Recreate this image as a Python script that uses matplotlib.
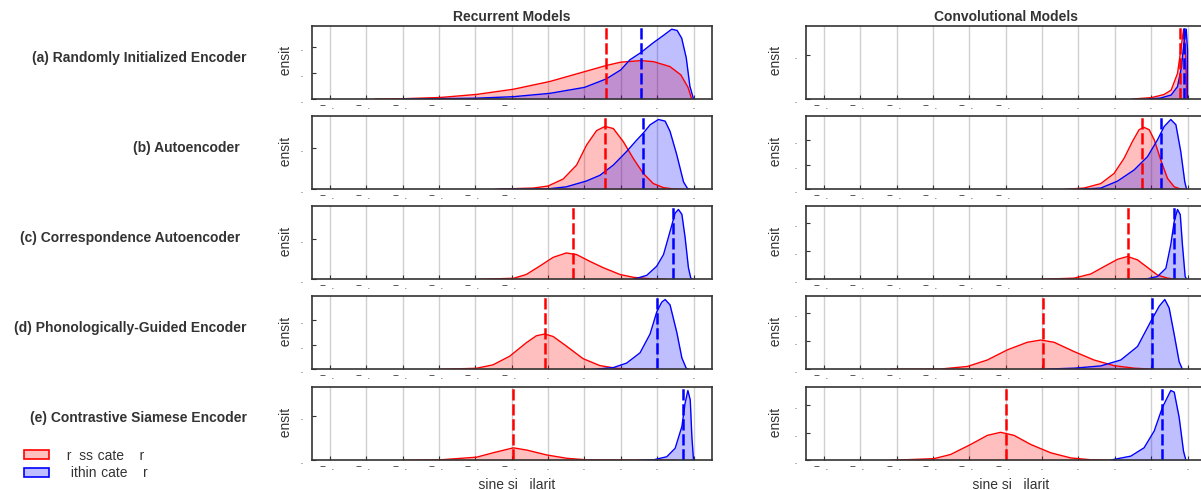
import matplotlib
matplotlib.use("Agg")
import matplotlib.pyplot as plt
from matplotlib.patches import Patch
from matplotlib.ticker import MultipleLocator, FuncFormatter

plt.rcParams['font.family'] = ['Liberation Sans', 'DejaVu Sans']
plt.rcParams['font.size'] = 10
plt.rcParams['text.color'] = '#333333'
plt.rcParams['axes.labelcolor'] = '#333333'

#############
# Chart data #
#############

# cosine similarity (x) and density (y), one list per curve
rnn_a_cross_x = [-0.75, -0.60, -0.39, -0.19, 0.01, 0.21, 0.40, 0.52, 0.60, 0.71, 0.78, 0.87, 0.93, 0.97, 0.99]
rnn_a_cross_y = [0.0, 0.01, 0.06, 0.18, 0.38, 0.68, 1.06, 1.30, 1.43, 1.49, 1.45, 1.26, 0.94, 0.45, 0.0]
rnn_a_within_x = [-0.60, -0.20, 0.01, 0.21, 0.40, 0.52, 0.60, 0.65, 0.71, 0.78, 0.835, 0.88, 0.91, 0.935, 0.96, 0.98, 1.0]
rnn_a_within_y = [0.0, 0.03, 0.09, 0.22, 0.45, 0.78, 1.13, 1.52, 1.80, 2.19, 2.47, 2.71, 2.66, 2.36, 1.60, 0.50, 0.0]

rnn_b_cross_x = [-0.09, 0.01, 0.12, 0.20, 0.283, 0.357, 0.412, 0.467, 0.513, 0.559, 0.614, 0.669, 0.724, 0.779, 0.835, 0.89, 0.95]
rnn_b_cross_y = [0.0, 0.016, 0.03, 0.08, 0.25, 0.59, 1.08, 1.43, 1.53, 1.48, 1.16, 0.75, 0.385, 0.14, 0.04, 0.008, 0.0]
rnn_b_within_x = [-0.07, 0.20, 0.30, 0.41, 0.485, 0.559, 0.632, 0.688, 0.724, 0.761, 0.807, 0.844, 0.871, 0.908, 0.945, 0.967, 0.98]
rnn_b_within_y = [0.0, 0.01, 0.06, 0.20, 0.34, 0.59, 0.92, 1.20, 1.37, 1.57, 1.70, 1.66, 1.41, 0.84, 0.18, 0.02, 0.0]

rnn_c_cross_x = [-0.18, 0.01, 0.08, 0.154, 0.228, 0.30, 0.357, 0.43, 0.504, 0.596, 0.669, 0.743, 0.85]
rnn_c_cross_y = [0.0, 0.025, 0.12, 0.33, 0.55, 0.66, 0.62, 0.45, 0.29, 0.12, 0.05, 0.02, 0.0]
rnn_c_within_x = [0.67, 0.743, 0.798, 0.835, 0.871, 0.899, 0.917, 0.936, 0.954, 0.972, 0.985, 0.995]
rnn_c_within_y = [0.0, 0.10, 0.33, 0.62, 1.20, 1.66, 1.75, 1.63, 1.04, 0.29, 0.03, 0.0]

rnn_d_cross_x = [-0.40, -0.195, -0.103, -0.011, 0.081, 0.136, 0.182, 0.228, 0.301, 0.393, 0.485, 0.577, 0.669, 0.80]
rnn_d_cross_y = [0.0, 0.04, 0.18, 0.53, 1.08, 1.36, 1.43, 1.33, 0.94, 0.43, 0.15, 0.04, 0.01, 0.0]
rnn_d_within_x = [0.45, 0.559, 0.632, 0.706, 0.761, 0.798, 0.825, 0.844, 0.871, 0.908, 0.936, 0.96, 0.975]
rnn_d_within_y = [0.0, 0.07, 0.25, 0.67, 1.43, 2.33, 2.72, 2.83, 2.61, 1.50, 0.46, 0.04, 0.0]

rnn_e_cross_x = [-0.60, -0.394, -0.193, -0.101, 0.009, 0.083, 0.193, 0.303, 0.413, 0.90]
rnn_e_cross_y = [0.0, 0.01, 0.07, 0.17, 0.28, 0.23, 0.12, 0.045, 0.01, 0.0]
rnn_e_within_x = [0.70, 0.78, 0.853, 0.899, 0.936, 0.954, 0.969, 0.982, 0.991, 1.0]
rnn_e_within_y = [0.0, 0.01, 0.08, 0.27, 0.76, 1.29, 1.57, 1.36, 0.53, 0.0]

cnn_a_cross_x = [0.70, 0.80, 0.87, 0.91, 0.945, 0.963, 0.978, 0.989, 0.996]
cnn_a_cross_y = [0.0, 0.03, 0.10, 0.20, 0.58, 1.11, 1.57, 1.11, 0.0]
cnn_a_within_x = [0.78, 0.85, 0.91, 0.945, 0.967, 0.982, 0.993, 1.0, 1.0]
cnn_a_within_y = [0.0, 0.02, 0.09, 0.28, 0.73, 1.34, 1.58, 1.10, 0.0]

cnn_b_cross_x = [0.33, 0.431, 0.523, 0.596, 0.651, 0.697, 0.734, 0.761, 0.789, 0.817, 0.853, 0.89, 0.927, 0.963, 0.99]
cnn_b_cross_y = [0.0, 0.05, 0.23, 0.64, 1.25, 1.93, 2.41, 2.50, 2.41, 2.00, 1.18, 0.44, 0.10, 0.01, 0.0]
cnn_b_within_x = [0.40, 0.523, 0.615, 0.706, 0.78, 0.835, 0.872, 0.908, 0.936, 0.963, 0.985, 0.995]
cnn_b_within_y = [0.0, 0.05, 0.33, 0.78, 1.32, 2.00, 2.54, 2.82, 2.61, 1.52, 0.30, 0.0]

cnn_c_cross_x = [0.19, 0.376, 0.468, 0.541, 0.615, 0.67, 0.725, 0.78, 0.835, 0.89, 0.945]
cnn_c_cross_y = [0.0, 0.04, 0.19, 0.45, 0.71, 0.81, 0.69, 0.42, 0.15, 0.04, 0.0]
cnn_c_within_x = [0.70, 0.78, 0.835, 0.881, 0.908, 0.927, 0.945, 0.96, 0.972, 0.987, 0.995]
cnn_c_within_y = [0.0, 0.02, 0.10, 0.39, 1.23, 2.06, 2.48, 2.30, 1.23, 0.10, 0.0]

cnn_d_cross_x = [-0.63, -0.358, -0.211, -0.101, 0.009, 0.119, 0.193, 0.266, 0.376, 0.486, 0.596, 0.706, 0.817]
cnn_d_cross_y = [0.0, 0.01, 0.10, 0.33, 0.69, 0.96, 1.04, 0.96, 0.63, 0.33, 0.13, 0.04, 0.0]
cnn_d_within_x = [0.19, 0.376, 0.523, 0.633, 0.725, 0.798, 0.844, 0.875, 0.899, 0.927, 0.954, 0.972]
cnn_d_within_y = [0.0, 0.04, 0.12, 0.33, 0.81, 1.70, 2.24, 2.48, 2.18, 1.23, 0.27, 0.0]

cnn_e_cross_x = [-0.63, -0.394, -0.303, -0.193, -0.101, -0.028, 0.046, 0.138, 0.248, 0.358, 0.468, 0.578]
cnn_e_cross_y = [0.0, 0.06, 0.21, 0.57, 0.90, 1.01, 0.90, 0.57, 0.27, 0.085, 0.02, 0.0]
cnn_e_within_x = [0.578, 0.688, 0.761, 0.817, 0.862, 0.908, 0.927, 0.954, 0.978, 0.991]
cnn_e_within_y = [0.01, 0.15, 0.45, 1.06, 1.91, 2.52, 2.46, 1.55, 0.33, 0.0]

# mean similarity (dashed lines), rows (a)..(e)
rnn_cross_means = [0.519, 0.513, 0.335, 0.182, 0.006]
rnn_within_means = [0.712, 0.720, 0.886, 0.798, 0.941]
cnn_cross_means = [0.960, 0.747, 0.673, 0.204, 0.000]
cnn_within_means = [0.978, 0.853, 0.923, 0.804, 0.862]

row_labels = ['(a) Randomly Initialized Encoder', '(b) Autoencoder',
              '(c) Correspondence Autoencoder', '(d) Phonologically-Guided Encoder',
              '(e) Contrastive Siamese Encoder']
col_titles = ['Recurrent Models', 'Convolutional Models']
x_ticks = [-1.0, -0.8, -0.6, -0.4, -0.2, -0.0, 0.2, 0.4, 0.6, 0.8, 1.0]

rnn_panels = [(rnn_a_cross_x, rnn_a_cross_y, rnn_a_within_x, rnn_a_within_y),
              (rnn_b_cross_x, rnn_b_cross_y, rnn_b_within_x, rnn_b_within_y),
              (rnn_c_cross_x, rnn_c_cross_y, rnn_c_within_x, rnn_c_within_y),
              (rnn_d_cross_x, rnn_d_cross_y, rnn_d_within_x, rnn_d_within_y),
              (rnn_e_cross_x, rnn_e_cross_y, rnn_e_within_x, rnn_e_within_y)]
cnn_panels = [(cnn_a_cross_x, cnn_a_cross_y, cnn_a_within_x, cnn_a_within_y),
              (cnn_b_cross_x, cnn_b_cross_y, cnn_b_within_x, cnn_b_within_y),
              (cnn_c_cross_x, cnn_c_cross_y, cnn_c_within_x, cnn_c_within_y),
              (cnn_d_cross_x, cnn_d_cross_y, cnn_d_within_x, cnn_d_within_y),
              (cnn_e_cross_x, cnn_e_cross_y, cnn_e_within_x, cnn_e_within_y)]

# the reference's regular-weight font dropped some glyphs (digits, C, D, W, o, g, m, y, -);
# they show up as blank space of about the same width
GHOST = {'C': '\u2002\u2009', 'D': '\u2002\u2009', 'W': '\u2003', 'o': '\u2007',
         'g': '\u2007', 'm': '\u2002\u2004', 'y': '\u2002', '-': '\u2004'}

def as_printed(text):
    return ''.join('\u2007' if ch.isdigit() else GHOST.get(ch, ch) for ch in text)

def tick_text(v):
    return as_printed(f"{v:.1f}").replace('\u2004', '\u2212')

########
# Plot #
########

W, H = 1201, 490
fig = plt.figure(figsize=(W / 100, H / 100), dpi=100)

col_left = [311.7, 805.7]
axes_w = 400.0
row_bottom = [99.0, 189.3, 279.3, 369.3, 460.3]
axes_h = 73.3
label_right = [247, 240, 240, 247, 247]
label_y = [58.3, 148.3, 238.3, 328.3, 418.3]
ylabel_pad = [1.5, 4.0]

red, blue = '#ff0000', '#0000ff'

for c, (panels, cross_means, within_means) in enumerate(
        [(rnn_panels, rnn_cross_means, rnn_within_means),
         (cnn_panels, cnn_cross_means, cnn_within_means)]):
    for r in range(5):
        ax = fig.add_axes([col_left[c] / W, 1 - row_bottom[r] / H, axes_w / W, axes_h / H])
        cx, cy, wx, wy = panels[r]
        ax.fill_between(cx, cy, 0, color=red, alpha=0.25, lw=0)
        ax.plot(cx, cy, color=red, lw=1.0)
        ax.fill_between(wx, wy, 0, color=blue, alpha=0.25, lw=0)
        ax.plot(wx, wy, color=blue, lw=1.0)
        ax.axvline(cross_means[r], color=red, ls='--', lw=1.8, dashes=(4.5, 1.5))
        ax.axvline(within_means[r], color=blue, ls='--', lw=1.8, dashes=(4.5, 1.5))

        ax.set_xlim(-1.1, 1.1)
        ax.set_ylim(0, max(max(cy), max(wy)) * 1.05)
        ax.set_xticks(x_ticks)
        ax.set_xticklabels([tick_text(v) for v in x_ticks])
        ax.yaxis.set_major_locator(MultipleLocator(1))
        ax.yaxis.set_major_formatter(FuncFormatter(lambda v, p: tick_text(v)))
        ax.tick_params(direction='in', length=3, width=0.8, labelsize=7.3,
                       colors='#333333')
        ax.tick_params(axis='x', pad=1.5)
        ax.tick_params(axis='y', pad=2)
        ax.grid(axis='x', color='#d0d0d0', lw=1.0)
        ax.set_axisbelow(True)
        for s in ax.spines.values():
            s.set_color('#333333')
            s.set_linewidth(1.2)
        ax.set_ylabel(as_printed('Density'), fontsize=10, labelpad=ylabel_pad[c])
        if r == 0:
            ax.set_title(col_titles[c], fontweight='bold', fontsize=10, pad=3.5)
        if r == 4:
            ax.set_xlabel(as_printed('Cosine similarity'), fontsize=10, labelpad=4)

for r, label in enumerate(row_labels):
    fig.text(label_right[r] / W, 1 - label_y[r] / H, label, ha='right', va='center',
             fontweight='bold', fontsize=10)

handles = [Patch(facecolor=(1, 0, 0, 0.25), edgecolor=red, lw=1.2,
                 label=as_printed('Cross-category')),
           Patch(facecolor=(0, 0, 1, 0.25), edgecolor=blue, lw=1.2,
                 label=as_printed('Within-category'))]
fig.legend(handles=handles, loc='upper left', bbox_to_anchor=(18.5 / W, 1 - 443 / H),
           frameon=False, fontsize=10, labelspacing=0.25, handlelength=1.8,
           handleheight=0.6, handletextpad=0.55, borderpad=0.4, borderaxespad=0)

fig.savefig('out.png', dpi=100)
